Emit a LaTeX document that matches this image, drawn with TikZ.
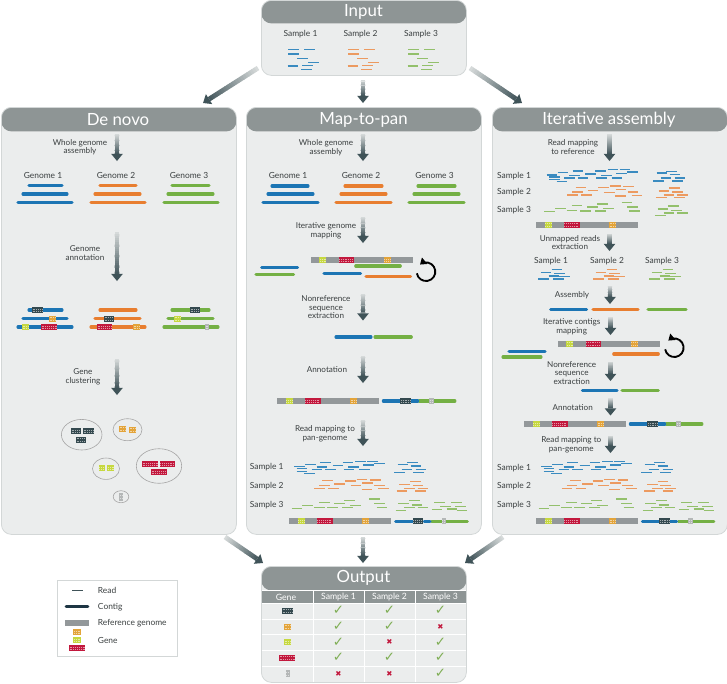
\documentclass[tikz,border=0pt]{standalone}
\usepackage{fontspec}
\setmainfont{Lato}
\newfontfamily\markfont{DejaVu Sans}
\usetikzlibrary{calc,arrows.meta}

\definecolor{panelbg}{HTML}{EBEDED}
\definecolor{panelline}{HTML}{D3D7D7}
\definecolor{headgray}{HTML}{8E9595}
\definecolor{txtgray}{HTML}{3A3F40}
\definecolor{flowdark}{HTML}{3F5358}
\definecolor{flowlight}{HTML}{D6DADA}
\definecolor{ctblue}{HTML}{1C75B4}
\definecolor{ctorange}{HTML}{E87E30}
\definecolor{ctgreen}{HTML}{74B044}
\definecolor{rdblue}{HTML}{3A8BC0}
\definecolor{rdorange}{HTML}{EC9A60}
\definecolor{rdgreen}{HTML}{93C06C}
\definecolor{refgray}{HTML}{93989A}
\definecolor{gndark}{HTML}{34494F}
\definecolor{gngold}{HTML}{E3A43A}
\definecolor{gnlime}{HTML}{C6D83F}
\definecolor{gnred}{HTML}{C2183D}
\definecolor{gngray}{HTML}{B4B7B7}
\definecolor{okgreen}{HTML}{7FAE55}
\definecolor{nored}{HTML}{C2183D}

\tikzset{
  panel/.style={draw=panelline, line width=0.6pt, fill=panelbg, rounded corners=7.5pt, anchor=north west, inner sep=0pt,
    path picture={\fill[headgray] (path picture bounding box.north west) rectangle ([yshift=-#1]path picture bounding box.north east);}},
  paneltitle/.style={text=white, inner sep=0pt, font=\fontsize{12.6}{14}\selectfont},
  steplabel/.style={text=txtgray, inner sep=0pt, align=center, font=\fontsize{6.1}{6.4}\selectfont},
  samplelabel/.style={text=txtgray, inner sep=0pt, font=\fontsize{6.3}{7}\selectfont},
  tablehead/.style={text=white, inner sep=0pt, font=\fontsize{6.5}{7}\selectfont},
  read/.style={line width=0.9pt},
  contig/.style={line width=2.3pt, line cap=round},
  refbar/.style={fill=refgray},
  cluster/.style={draw=gray!70, line width=0.45pt},
  cycle/.style={line width=1.4pt, black, -{Triangle[length=4.5pt,width=6pt]}},
  flowshaft/.style={line width=3.6pt},
}

% reads, positions read off at 3x
\def\blueA{147/170,180/163,225/158,293/158,330/154,366/154,215/171,263/167,310/171,355/165,388/161,155/176,200/179,240/179,296/179,342/179,155/184,177/190}
\def\blueB{458/163,487/158,470/178,512/178,448/187,497/168,505/187}
\def\orangeA{232/212,335/208,375/210,300/213,352/219,222/226,268/222,317/227,388/226,207/235,249/235,350/238,400/236}
\def\orangeB{495/214,463/223,503/226,478/235,518/235,455/243,510/243}
\def\greenA{222/277,298/272,372/267,172/286,268/281,316/286,388/281,140/295,207/292,247/293,292/293,395/293}
\def\greenB{492/272,460/281,500/285,478/293,518/293,452/301}
\def\greenC{568/277,618/278,585/289,630/289,560/298,605/297,635/302}
\def\inputreads{145/149,193/149,145/162,172/175,204/188,143/198,186/197,183/209}
\def\unmapreads{185/418,152/427,192/431,176/438,208/439,145/447,190/447}

% #1 colour, #2 list, #3 shift
\newcommand{\readset}[3]{%
  \begin{scope}[shift={(#3)}, x=0.25pt, y=-0.25pt]
    \foreach \a/\b in #2 { \draw[read,#1] (\a,\b) -- ++(32,0); }
  \end{scope}}

% #1 colour, #2 left, #3 right, #4 middle height, #5 half height
\newcommand{\gene}[5]{%
  \fill[#1] (#2,#4-#5) rectangle (#3,#4+#5);
  \draw[white, line width=0.3pt, dash pattern=on 0.7pt off 0.7pt, opacity=0.55] (#2+0.5,#4-#5*0.4) -- (#3-0.5,#4-#5*0.4);
  \draw[white, line width=0.3pt, dash pattern=on 0.7pt off 0.7pt, opacity=0.55] (#2+0.5,#4+#5*0.4) -- (#3-0.5,#4+#5*0.4);}

% reference bar, #1 left, #2 middle height, offsets of the genes follow the left end
\newcommand{\refgenome}[2]{%
  \fill[refbar] (#1,#2-3) rectangle (#1+102.3,#2+3);
  \gene{gnlime}{#1+8.6}{#1+15.6}{#2}{3}
  \gene{gnred}{#1+27.8}{#1+43.6}{#2}{3}
  \gene{gngold}{#1+73}{#1+80}{#2}{3}}

% blue and green nonreference pair with their genes
\newcommand{\annotpair}[2]{%
  \draw[contig,ctgreen] (#1+36,#2) -- (#1+71.6,#2);
  \draw[contig,ctblue] (#1,#2) -- (#1+34.4,#2);
  \gene{gndark}{#1+17}{#1+27.4}{#2}{3}
  \gene{gngray}{#1+46}{#1+50.4}{#2}{3}}

% faded shaft and head between two named points
\newcommand{\flow}[2]{%
  \coordinate (fhead) at ($(#2)!5.4pt!(#1)$);
  \foreach \i [evaluate=\i as \j using \i+1.15, evaluate=\i as \c using int(\i*100/20)] in {0,...,19}
    \draw[flowshaft, color=flowdark!\c!flowlight] ($(#1)!\i/20!(fhead)$) -- ($(#1)!{min(\j/20,1)}!(fhead)$);
  \fill[flowdark] ($(fhead)!4.4pt!90:(#2)$) -- (#2) -- ($(fhead)!4.4pt!-90:(#2)$) -- cycle;}

\begin{document}
\begin{tikzpicture}[x=0.75pt,y=-0.75pt]
\useasboundingbox (0,0) rectangle (727,683);

% panels
\node[panel=17.25pt, minimum width=153.75pt, minimum height=56.25pt] (input) at (261,0) {};
\node[panel=18pt, minimum width=176.25pt, minimum height=320.25pt] (denovo) at (1,107) {};
\node[panel=18pt, minimum width=176.25pt, minimum height=320.25pt] (maptopan) at (246,107) {};
\node[panel=18pt, minimum width=176.25pt, minimum height=320.25pt] (iterative) at (492,107) {};
\node[panel=18pt, minimum width=153.75pt, minimum height=87pt] (output) at (261,566) {};
\node[paneltitle] (inputtitle) at (363.5,11.5) {Input};
\node[paneltitle] (denovotitle) at (118,120) {De novo};
\node[paneltitle] (maptopantitle) at (363.5,120) {Map-to-pan};
\node[paneltitle] (iterativetitle) at (609,120) {Iterative assembly};
\node[paneltitle] (outputtitle) at (363.5,578) {Output};

% arrows between panels
\coordinate (in1) at (258,68);
\coordinate (dn1) at (203,103);
\coordinate (in2) at (363,80);
\coordinate (mp1) at (363,103);
\coordinate (in3) at (470,68);
\coordinate (it1) at (522,103);
\coordinate (dn2) at (225,537);
\coordinate (ou1) at (263,563);
\coordinate (mp2) at (363,537);
\coordinate (ou2) at (363,563);
\coordinate (it2) at (503,537);
\coordinate (ou3) at (465,563);
\flow{in1}{dn1}
\flow{in2}{mp1}
\flow{in3}{it1}
\flow{dn2}{ou1}
\flow{mp2}{ou2}
\flow{it2}{ou3}

% arrows inside panels
\foreach \n/\x/\ya/\yb in {dna/117/134/161,dnb/117/232/281,dnc/117/359/395,
  mpa/363/134/161,mpb/363/217/243,mpc/363/294/320.5,mpd/363/356/383,mpe/363/420/446,
  ita/609.5/134/161,itb/609.5/233.5/251,itc/610/286/304,itd/610.5/317/335,ite/610.5/361.5/381,itf/610.5/398/415.5,itg/610.5/435.5/453}{
  \coordinate (\n top) at (\x,\ya);
  \coordinate (\n bot) at (\x,\yb);
  \flow{\n top}{\n bot}
}

% Input
\node[samplelabel] (insa) at (300.5,34) {Sample 1};
\node[samplelabel] (insb) at (360.5,34) {Sample 2};
\node[samplelabel] (insc) at (421,34) {Sample 3};
\readset{rdblue}{\inputreads}{240,0}
\readset{rdorange}{\inputreads}{300,0}
\readset{rdgreen}{\inputreads}{360,0}

% De novo
\node[steplabel] (dnla) at (80,147) {Whole genome\\assembly};
\node[steplabel] (dnlb) at (85,253) {Genome\\annotation};
\node[steplabel] (dnlc) at (83,377) {Gene\\clustering};
\node[samplelabel] (dngo) at (43,175) {Genome 1};
\node[samplelabel] (dngt) at (116,175) {Genome 2};
\node[samplelabel] (dngh) at (189,175) {Genome 3};
\foreach \dy in {0,124.5}{
  \draw[contig,ctblue] (29,185.5+\dy) -- (62,185.5+\dy);
  \draw[contig,ctblue] (23,194+\dy) -- (67,194+\dy);
  \draw[contig,ctblue] (18,202.5+\dy) -- (72,202.5+\dy);
  \draw[contig,ctorange] (100,185.5+\dy) -- (136,185.5+\dy);
  \draw[contig,ctorange] (95,194+\dy) -- (140,194+\dy);
  \draw[contig,ctorange] (91,202.5+\dy) -- (145,202.5+\dy);
  \draw[contig,ctgreen] (172,185.5+\dy) -- (209,185.5+\dy);
  \draw[contig,ctgreen] (168,194+\dy) -- (213,194+\dy);
  \draw[contig,ctgreen] (164,202.5+\dy) -- (218,202.5+\dy);
}
\gene{gndark}{32}{43}{310}{3}
\gene{gngold}{49}{56}{318.5}{3}
\gene{gnlime}{22}{29}{327}{3}
\gene{gnred}{41}{57}{327}{3}
\gene{gndark}{104}{114}{318.5}{3}
\gene{gnred}{97}{112}{327}{3}
\gene{gngold}{133}{140}{327}{3}
\gene{gndark}{190}{200}{310}{3}
\gene{gnlime}{174}{181}{318.5}{3}
\gene{gngray}{205}{209}{327}{3}
\draw[cluster] (81.7,434.7) ellipse (20.3 and 15.3);
\draw[cluster] (127.5,429.7) ellipse (14.5 and 11);
\draw[cluster] (106,468.7) ellipse (13.5 and 10.7);
\draw[cluster] (159,466) ellipse (22.7 and 17.3);
\draw[cluster] (121,496.7) ellipse (7.8 and 6);
\gene{gndark}{71}{81}{431.3}{3}
\gene{gndark}{83}{94}{431.3}{3}
\gene{gndark}{76}{86}{439.7}{3}
\gene{gngold}{119}{126}{428.7}{3}
\gene{gngold}{129}{136}{429.7}{3}
\gene{gnlime}{98.7}{105.3}{468}{3}
\gene{gnlime}{107.3}{114}{468}{3}
\gene{gnred}{142}{158}{464}{3}
\gene{gnred}{159.7}{175.3}{464}{3}
\gene{gnred}{151}{166.7}{472}{3}
\gene{gngray}{119.3}{122.7}{496.7}{4}

% Map-to-pan
\node[steplabel] (mpla) at (326,147.5) {Whole genome\\assembly};
\node[steplabel] (mplb) at (326,231) {Iterative genome\\mapping};
\node[steplabel] (mplc) at (326,307.5) {Nonreference\\sequence\\extraction};
\node[steplabel] (mpld) at (327,370) {Annotation};
\node[steplabel] (mple) at (325,433.5) {Read mapping to\\pan-genome};
\node[samplelabel] (mpgo) at (288,175) {Genome 1};
\node[samplelabel] (mpgt) at (361,175) {Genome 2};
\node[samplelabel] (mpgh) at (434.5,175) {Genome 3};
\draw[contig,ctblue] (272,186) -- (308,186);
\draw[contig,ctblue] (268,194) -- (313,194);
\draw[contig,ctblue] (263,202.5) -- (318,202.5);
\draw[contig,ctorange] (345,186) -- (382,186);
\draw[contig,ctorange] (341,194) -- (386,194);
\draw[contig,ctorange] (336,202.5) -- (391,202.5);
\draw[contig,ctgreen] (418,186) -- (455,186);
\draw[contig,ctgreen] (414,194) -- (459,194);
\draw[contig,ctgreen] (409,202.5) -- (464,202.5);
\refgenome{310.7}{260}
\draw[contig,ctgreen] (355.7,266) -- (400.3,266);
\draw[contig,ctblue] (324,273.3) -- (360.7,273.3);
\draw[contig,ctorange] (366,276.7) -- (410.7,276.7);
\draw[contig,ctblue] (261.7,267.3) -- (297.7,267.3);
\draw[contig,ctgreen] (256,274.3) -- (293.7,274.3);
\draw[cycle] (426,271.7) ++(-190:9.3) arc[start angle=-190, end angle=-490, radius=9.3];
\draw[contig,ctblue] (336,337) -- (371,337);
\draw[contig,ctgreen] (375,337) -- (411.3,337);
\refgenome{277}{401}
\annotpair{383.3}{401}
\node[samplelabel] (mpsa) at (266.7,467) {Sample 1};
\node[samplelabel] (mpsb) at (266.7,485.7) {Sample 2};
\node[samplelabel] (mpsc) at (266.7,505) {Sample 3};
\readset{rdblue}{\blueA}{245,410}
\readset{rdblue}{\blueB}{245,410}
\readset{rdorange}{\orangeA}{245,410}
\readset{rdorange}{\orangeB}{245,410}
\readset{rdgreen}{\greenA}{245,410}
\readset{rdgreen}{\greenB}{245,410}
\readset{rdgreen}{\greenC}{245,410}
\refgenome{289}{521.3}
\annotpair{395.7}{521.3}

% Iterative assembly
\node[steplabel] (itla) at (573,147) {Read mapping\\to reference};
\node[steplabel] (itlb) at (570,242.5) {Unmapped reads\\extraction};
\node[steplabel] (itlc) at (572,295) {Assembly};
\node[steplabel] (itld) at (571.7,327) {Iterative contigs\\mapping};
\node[steplabel] (itle) at (571.7,373) {Nonreference\\sequence\\extraction};
\node[steplabel] (itlf) at (572.7,407.3) {Annotation};
\node[steplabel] (itlg) at (571.3,444.5) {Read mapping to\\pan-genome};
\node[samplelabel] (itsa) at (514,175.7) {Sample 1};
\node[samplelabel] (itsb) at (514,192) {Sample 2};
\node[samplelabel] (itsc) at (514,210) {Sample 3};
\readset{rdblue}{\blueA}{497.7,118.3}
\readset{rdblue}{\blueB}{504,118.7}
\readset{rdorange}{\orangeA}{498.3,116.7}
\readset{rdorange}{\orangeB}{504.3,116.7}
\readset{rdgreen}{\greenA}{497.7,113.3}
\readset{rdgreen}{\greenB}{504.3,115.3}
\refgenome{536}{224.7}
\node[samplelabel] (itua) at (551,261.3) {Sample 1};
\node[samplelabel] (itub) at (607,261.3) {Sample 2};
\node[samplelabel] (ituc) at (662,261.3) {Sample 3};
\readset{rdblue}{\unmapreads}{490,130}
\readset{rdorange}{\unmapreads}{545,130}
\readset{rdgreen}{\unmapreads}{601,130}
\draw[contig,ctblue] (550.7,309.7) -- (586.7,309.7);
\draw[contig,ctorange] (593,309.7) -- (638,309.7);
\draw[contig,ctgreen] (648,309.7) -- (686,309.7);
\refgenome{557.7}{343.7}
\draw[contig,ctorange] (613.7,354) -- (658.3,354);
\draw[contig,ctblue] (509,351.7) -- (545,351.7);
\draw[contig,ctgreen] (503,357) -- (541,357);
\draw[cycle] (674.3,347.7) ++(-190:9.3) arc[start angle=-190, end angle=-490, radius=9.3];
\draw[contig,ctblue] (582.3,390.7) -- (617,390.7);
\draw[contig,ctgreen] (622,390.7) -- (658.3,390.7);
\refgenome{524}{424}
\annotpair{630.3}{424}
\node[samplelabel] (itra) at (514,468) {Sample 1};
\node[samplelabel] (itrb) at (514,485.7) {Sample 2};
\node[samplelabel] (itrc) at (514,505) {Sample 3};
\readset{rdblue}{\blueA}{492,410}
\readset{rdblue}{\blueB}{492,410}
\readset{rdorange}{\orangeA}{492.7,410}
\readset{rdorange}{\orangeB}{492.7,410}
\readset{rdgreen}{\greenA}{492,410}
\readset{rdgreen}{\greenB}{492,410}
\readset{rdgreen}{\greenC}{492,410}
\refgenome{536}{521.3}
\annotpair{642.3}{521.3}

% Output table
\fill[headgray] (262,590) rectangle (466,603);
\draw[white, line width=0.6pt] (262,590) -- (466,590);
\foreach \y in {603,619,634,650,666} \draw[white, line width=0.6pt] (262,\y) -- (466,\y);
\foreach \x in {313,364,415} \draw[white, line width=0.6pt] (\x,590) -- (\x,682);
\node[tablehead] (thgene) at (286,597) {Gene};
\node[tablehead] (thsa) at (338.5,597) {Sample 1};
\node[tablehead] (thsb) at (389.5,597) {Sample 2};
\node[tablehead] (thsc) at (440.5,597) {Sample 3};
\gene{gndark}{282}{292.7}{610.5}{3}
\gene{gngold}{284}{291}{626.5}{3}
\gene{gnlime}{284}{291}{642}{3}
\gene{gnred}{279}{295}{657.5}{3}
\gene{gngray}{285.5}{289.5}{673.5}{3.5}
\foreach \n/\y/\sa/\sb/\sc in {a/610.5/1/1/1,b/626.5/1/1/0,c/642/1/0/1,d/657.5/1/1/1,e/673.5/0/0/1}{
  \foreach \k/\x/\s in {s/338.5/\sa,t/389.5/\sb,u/440.5/\sc}{
    \ifnum\s=1
      \node[text=okgreen, inner sep=0pt, font=\markfont\fontsize{10}{10}\selectfont] (mark\n\k) at (\x,\y) {✓};
    \else
      \node[text=nored, inner sep=0pt, font=\markfont\fontsize{5.5}{6}\selectfont] (mark\n\k) at (\x,\y) {✖};
    \fi
  }
}

% legend
\draw[panelline, line width=0.6pt] (57.3,580.3) rectangle (177.3,656.7);
\draw[line width=0.75pt, flowdark] (72.3,590.7) -- (82.7,590.7);
\draw[line width=2.1pt, black!70!ctblue!60!flowdark, line cap=round] (66,606.7) -- (88,606.7);
\fill[refbar] (65,620.3) rectangle (89,626.3);
\gene{gngold}{73.3}{80.7}{632.3}{3}
\gene{gnlime}{73.3}{80.7}{640.3}{3}
\gene{gnred}{69}{85}{648.3}{3}
\node[samplelabel, anchor=west] (lgread) at (97.7,590) {Read};
\node[samplelabel, anchor=west] (lgcontig) at (97.7,606.7) {Contig};
\node[samplelabel, anchor=west] (lgref) at (97.7,623.3) {Reference genome};
\node[samplelabel, anchor=west] (lggene) at (97.7,640.3) {Gene};
\end{tikzpicture}
\end{document}
